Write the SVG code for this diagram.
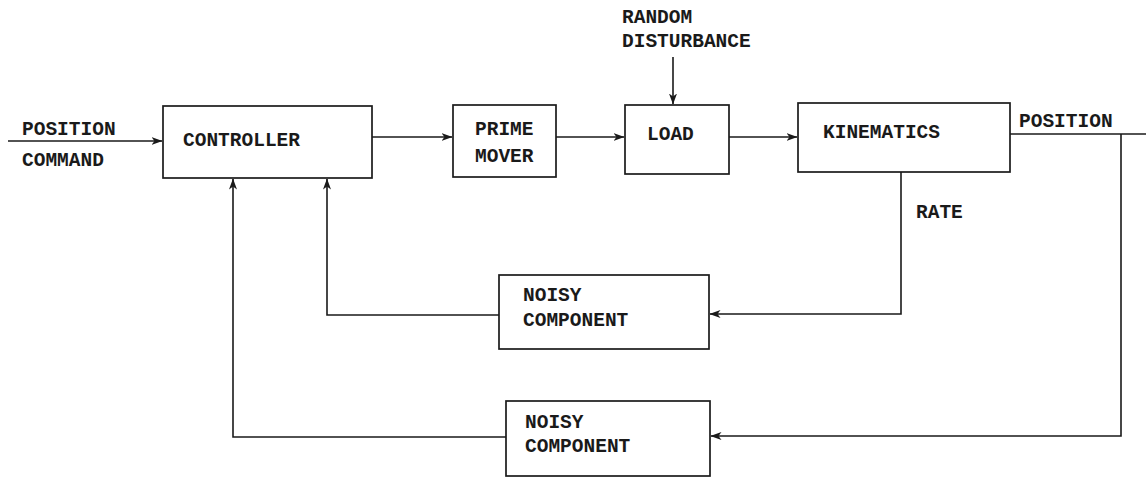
<svg xmlns="http://www.w3.org/2000/svg" width="1146" height="479" viewBox="0 0 1146 479">
<style>
.box{fill:#fff;stroke:#1a1a1a;stroke-width:1.7}
.ln{fill:none;stroke:#1a1a1a;stroke-width:1.6}
.t{font-family:"Liberation Mono","Courier New",monospace;font-size:19.5px;font-weight:bold;fill:#1a1a1a}
</style>
<defs>
<marker id="ah" viewBox="0 0 11 10" refX="10.5" refY="5" markerWidth="11" markerHeight="10" markerUnits="userSpaceOnUse" orient="auto">
<path d="M0,1 L11,5 L0,9 L3,5 Z" fill="#1a1a1a"/>
</marker>
</defs>
<rect width="1146" height="479" fill="#fff"/>
<g id="connectors">
<path class="ln" d="M8,141 H162" marker-end="url(#ah)"/>
<path class="ln" d="M372,137 H452" marker-end="url(#ah)"/>
<path class="ln" d="M556,137 H624" marker-end="url(#ah)"/>
<path class="ln" d="M673,57 V104" marker-end="url(#ah)"/>
<path class="ln" d="M729,137 H797" marker-end="url(#ah)"/>
<path class="ln" d="M1010,134 H1146"/>
<path class="ln" d="M1121,134 V436 H711" marker-end="url(#ah)"/>
<path class="ln" d="M901,172 V314 H710" marker-end="url(#ah)"/>
<path class="ln" d="M499,315 H327 V179" marker-end="url(#ah)"/>
<path class="ln" d="M506,437 H233 V179" marker-end="url(#ah)"/>
</g>
<g id="input-label">
<text class="t" x="22" y="135">POSITION</text>
<text class="t" x="22" y="166">COMMAND</text>
</g>
<g id="controller">
<rect class="box" x="163" y="106" width="209" height="72"/>
<text class="t" x="183" y="146">CONTROLLER</text>
</g>
<g id="prime-mover">
<rect class="box" x="453" y="105" width="103" height="72"/>
<text class="t" x="475" y="135">PRIME</text>
<text class="t" x="475" y="162">MOVER</text>
</g>
<g id="disturbance">
<text class="t" x="622" y="23">RANDOM</text>
<text class="t" x="622" y="47">DISTURBANCE</text>
</g>
<g id="load">
<rect class="box" x="625" y="105" width="104" height="69"/>
<text class="t" x="647" y="140">LOAD</text>
</g>
<g id="kinematics">
<rect class="box" x="798" y="103" width="212" height="69"/>
<text class="t" x="823" y="138">KINEMATICS</text>
</g>
<g id="position-label">
<text class="t" x="1019" y="127">POSITION</text>
</g>
<g id="rate-label">
<text class="t" x="916" y="218">RATE</text>
</g>
<g id="noisy1">
<rect class="box" x="499" y="275" width="210" height="74"/>
<text class="t" x="523" y="301">NOISY</text>
<text class="t" x="523" y="326">COMPONENT</text>
</g>
<g id="noisy2">
<rect class="box" x="506" y="401" width="204" height="75"/>
<text class="t" x="525" y="428">NOISY</text>
<text class="t" x="525" y="452">COMPONENT</text>
</g>
</svg>
